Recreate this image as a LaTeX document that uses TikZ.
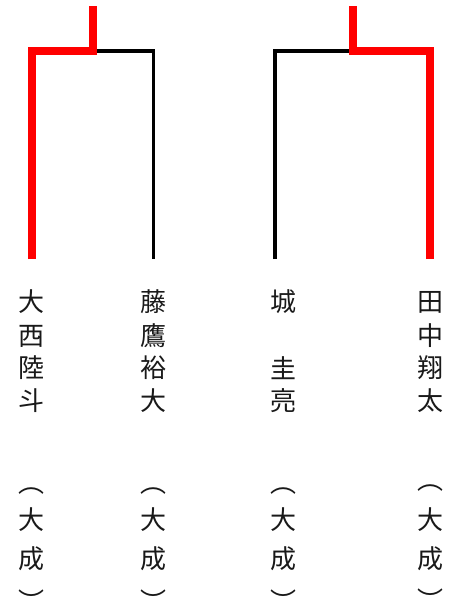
\documentclass[tikz,border=0pt]{standalone}
\usepackage{fontspec}
\newfontfamily\jp{Noto Sans CJK JP}
\begin{document}
\begin{tikzpicture}[x=1pt,y=-1pt,
  win/.style={draw=red,line width=8pt,miter limit=10,line join=miter},
  lose/.style={draw=black,line width=3.5pt,line join=miter},
  ch/.style={inner sep=0pt,font=\jp\fontsize{26}{26}\selectfont,text=black!90},
  vparen/.style={ch}]
\useasboundingbox (0,0) rectangle (453,600);
% bracket coordinates
\coordinate (p1) at (32,259);
\coordinate (p2) at (153.5,259);
\coordinate (p3) at (275,259);
\coordinate (p4) at (430,259);
\coordinate (j1a) at (32,51);
\coordinate (j1b) at (153.5,51);
\coordinate (m1) at (93,51);
\coordinate (t1) at (93,6);
\coordinate (j2a) at (275,51);
\coordinate (j2b) at (430,51);
\coordinate (m2) at (353,51);
\coordinate (t2) at (353,6);
% losers
\draw[lose] (m1) -- (j1b) -- (p2);
\draw[lose] (p3) -- (j2a) -- (m2);
% winners
\draw[win] (p1) -- (j1a) -- (m1) -- (t1);
\draw[win] (p4) -- (j2b) -- (m2) -- (t2);
% names
\foreach \c/\y [count=\i] in {大/302,西/336,陸/368,斗/401}
  \node[ch] (a\i) at (32,\y) {\c};
\foreach \c/\y [count=\i] in {藤/302,鷹/336,裕/368,大/401}
  \node[ch] (b\i) at (153,\y) {\c};
\node[ch] (c1) at (283,302) {城};
\node[ch] (c3) at (283,368) {圭};
\node[ch] (c4) at (283,401) {亮};
\foreach \c/\y [count=\i] in {田/302,中/336,翔/368,太/401}
  \node[ch] (d\i) at (430,\y) {\c};
% schools
\foreach \x/\n/\o in {32/a/0,153/b/0,283/c/0,430/d/3}{
  \node[vparen] (\n o) at (\x,{491-\o}) {︵};
  \node[ch] (\n s1) at (\x,520) {大};
  \node[ch] (\n s2) at (\x,559) {成};
  \node[vparen] (\n c) at (\x,{601-\o/2}) {︶};
}
\end{tikzpicture}
\end{document}
